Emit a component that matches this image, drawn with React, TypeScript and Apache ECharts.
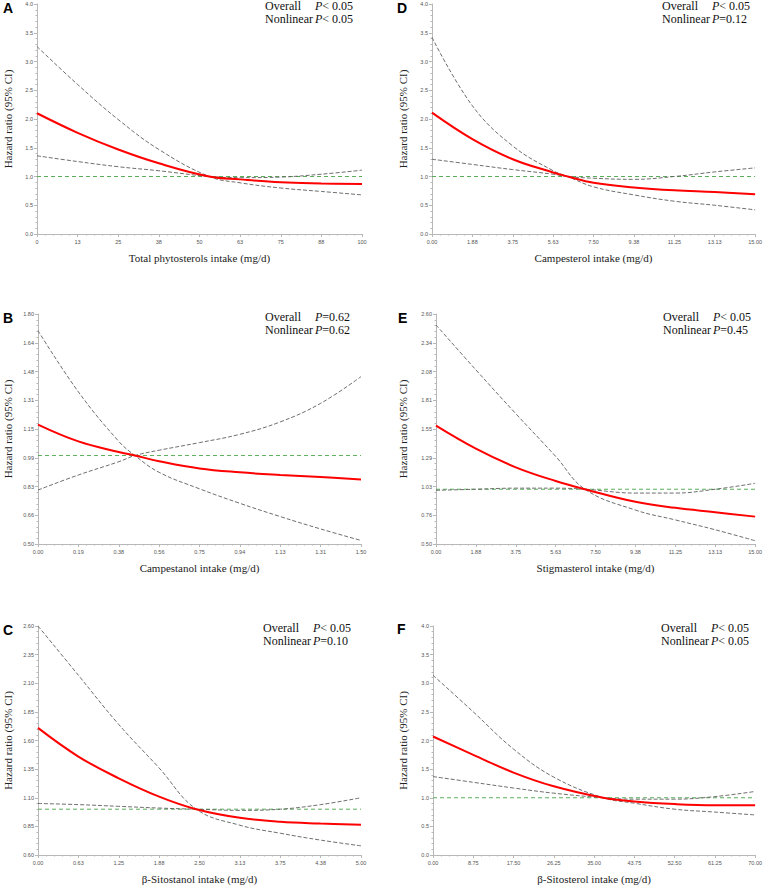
import React, { useEffect, useRef } from "react";
import * as echarts from "echarts";

// ---------- Panel A: Total phytosterols ----------
const xA = [0, 12.5, 25, 37.5, 53, 62.5, 75, 87.5, 100];
const hrA = [2.1, 1.76, 1.47, 1.23, 1.0, 0.95, 0.9, 0.88, 0.87];
const steepA = [3.26, 2.6, 1.99, 1.47, 1.0, 0.89, 0.8, 0.74, 0.68];
const flatA = [1.36, 1.26, 1.17, 1.1, 1.0, 0.98, 0.99, 1.04, 1.11];
const xTicksA = ["0", "13", "25", "38", "50", "63", "75", "88", "100"];
const yTicksA = ["0.0", "0.5", "1.0", "1.5", "2.0", "2.5", "3.0", "3.5", "4.0"];

// ---------- Panel B: Campestanol ----------
const xB = [0, 0.1875, 0.375, 0.45, 0.5625, 0.75, 0.9375, 1.125, 1.3125, 1.5];
const hrB = [1.175, 1.08, 1.02, 1.0, 0.968, 0.927, 0.905, 0.89, 0.878, 0.865];
const steepB = [1.706, 1.36, 1.08, 1.0, 0.905, 0.812, 0.73, 0.655, 0.585, 0.52];
const flatB = [0.805, 0.89, 0.965, 1.0, 1.03, 1.073, 1.12, 1.19, 1.295, 1.446];
const xTicksB = ["0.00", "0.19", "0.38", "0.56", "0.75", "0.94", "1.13", "1.31", "1.50"];
const yTicksB = ["0.50", "0.66", "0.83", "0.99", "1.15", "1.31", "1.48", "1.64", "1.80"];

// ---------- Panel C: beta-Sitostanol ----------
const xC = [0, 0.625, 1.25, 1.875, 2.45, 3.125, 3.75, 4.375, 5];
const hrC = [1.71, 1.46, 1.27, 1.11, 1.0, 0.925, 0.89, 0.875, 0.865];
const steepC = [2.6, 2.17, 1.74, 1.36, 1.0, 0.86, 0.79, 0.73, 0.68];
const flatC = [1.05, 1.04, 1.025, 1.01, 1.0, 0.99, 1.0, 1.04, 1.1];
const xTicksC = ["0.00", "0.63", "1.25", "1.88", "2.50", "3.13", "3.75", "4.38", "5.00"];
const yTicksC = ["0.60", "0.85", "1.10", "1.35", "1.60", "1.85", "2.10", "2.35", "2.60"];

// ---------- Panel D: Campesterol ----------
const xD = [0, 1.875, 3.75, 5.625, 6.3, 7.5, 9.375, 11.25, 13.125, 15];
const hrD = [2.11, 1.65, 1.3, 1.07, 1.0, 0.89, 0.81, 0.76, 0.73, 0.69];
const steepD = [3.42, 2.23, 1.53, 1.1, 1.0, 0.82, 0.68, 0.57, 0.5, 0.42];
const flatD = [1.3, 1.21, 1.12, 1.04, 1.0, 0.97, 0.95, 1.0, 1.08, 1.15];
const xTicksD = ["0.00", "1.88", "3.75", "5.63", "7.50", "9.38", "11.25", "13.13", "15.00"];
const yTicksD = ["0.0", "0.5", "1.0", "1.5", "2.0", "2.5", "3.0", "3.5", "4.0"];

// ---------- Panel E: Stigmasterol ----------
const xE = [0, 1.875, 3.75, 5.625, 7.0, 9.375, 11.25, 13.125, 15];
const hrE = [1.58, 1.37, 1.2, 1.075, 1.0, 0.885, 0.83, 0.79, 0.75];
const steepE = [2.5, 2.09, 1.69, 1.3, 1.0, 0.81, 0.72, 0.63, 0.53];
const flatE = [0.99, 1.0, 1.01, 1.01, 1.0, 0.965, 0.965, 1.0, 1.054];
const xTicksE = ["0.00", "1.88", "3.75", "5.63", "7.50", "9.38", "11.25", "13.13", "15.00"];
const yTicksE = ["0.50", "0.76", "1.03", "1.29", "1.55", "1.81", "2.08", "2.34", "2.60"];

// ---------- Panel F: beta-Sitosterol ----------
const xF = [0, 8.75, 17.5, 26.25, 37, 43.75, 52.5, 61.25, 70];
const hrF = [2.07, 1.75, 1.44, 1.2, 1.0, 0.935, 0.89, 0.87, 0.87];
const steepF = [3.14, 2.5, 1.85, 1.36, 1.0, 0.905, 0.8, 0.75, 0.7];
const flatF = [1.37, 1.27, 1.17, 1.08, 1.0, 0.975, 0.975, 1.02, 1.11];
const xTicksF = ["0.00", "8.75", "17.50", "26.25", "35.00", "43.75", "52.50", "61.25", "70.00"];
const yTicksF = ["0.0", "0.5", "1.0", "1.5", "2.0", "2.5", "3.0", "3.5", "4.0"];

const letters = ["A", "B", "C", "D", "E", "F"];
const xTitles = [
  "Total phytosterols intake (mg/d)",
  "Campestanol intake (mg/d)",
  "β-Sitostanol intake (mg/d)",
  "Campesterol intake (mg/d)",
  "Stigmasterol intake (mg/d)",
  "β-Sitosterol intake (mg/d)",
];
const overallP = ["< 0.05", "=0.62", "< 0.05", "< 0.05", "< 0.05", "< 0.05"];
const nonlinearP = ["< 0.05", "=0.62", "=0.10", "=0.12", "=0.45", "< 0.05"];
const yTitle = "Hazard ratio (95% CI)";
const refHR = 1.0;

type Panel = {
  x: number[];
  hr: number[];
  ci1: number[];
  ci2: number[];
  xMax: number;
  yMin: number;
  yMax: number;
  xTicks: string[];
  yTicks: string[];
  grid: { left: number; top: number; width: number; height: number };
  nameGapY: number;
  ann: { x: number; y: number };
  letterPos: { x: number; y: number };
};

const panels: Panel[] = [
  { x: xA, hr: hrA, ci1: steepA, ci2: flatA, xMax: 100, yMin: 0, yMax: 4, xTicks: xTicksA, yTicks: yTicksA,
    grid: { left: 37, top: 4, width: 325, height: 230 }, nameGapY: 24, ann: { x: 265, y: 6 }, letterPos: { x: 3, y: 1 } },
  { x: xB, hr: hrB, ci1: steepB, ci2: flatB, xMax: 1.5, yMin: 0.5, yMax: 1.8, xTicks: xTicksB, yTicks: yTicksB,
    grid: { left: 38, top: 314, width: 323, height: 230 }, nameGapY: 25, ann: { x: 265, y: 317 }, letterPos: { x: 3, y: 311 } },
  { x: xC, hr: hrC, ci1: steepC, ci2: flatC, xMax: 5, yMin: 0.6, yMax: 2.6, xTicks: xTicksC, yTicks: yTicksC,
    grid: { left: 38, top: 626, width: 323, height: 229 }, nameGapY: 25, ann: { x: 263, y: 628 }, letterPos: { x: 3, y: 623 } },
  { x: xD, hr: hrD, ci1: steepD, ci2: flatD, xMax: 15, yMin: 0, yMax: 4, xTicks: xTicksD, yTicks: yTicksD,
    grid: { left: 432, top: 4, width: 326, height: 230 }, nameGapY: 23.5, ann: { x: 662, y: 6 }, letterPos: { x: 397, y: 1 } },
  { x: xE, hr: hrE, ci1: steepE, ci2: flatE, xMax: 15, yMin: 0.5, yMax: 2.6, xTicks: xTicksE, yTicks: yTicksE,
    grid: { left: 436, top: 314, width: 323, height: 230 }, nameGapY: 27.5, ann: { x: 663, y: 317 }, letterPos: { x: 398, y: 311 } },
  { x: xF, hr: hrF, ci1: steepF, ci2: flatF, xMax: 70, yMin: 0, yMax: 4, xTicks: xTicksF, yTicks: yTicksF,
    grid: { left: 433, top: 626, width: 325, height: 229 }, nameGapY: 24.5, ann: { x: 661, y: 628 }, letterPos: { x: 397, y: 622 } },
];

const serif = '"Liberation Serif", "Times New Roman", serif';
const sans = '"Liberation Sans", Arial, sans-serif';
const axisGray = "#b8b8b8";

function buildOption() {
  const grid: any[] = [];
  const xAxis: any[] = [];
  const yAxis: any[] = [];
  const series: any[] = [];
  const graphic: any[] = [];

  panels.forEach((p, i) => {
    const yStep = (p.yMax - p.yMin) / 8;
    const yU = (v: number) => (v - p.yMin) / yStep;
    const xStep = p.xMax / 8;
    grid.push({ ...p.grid, containLabel: false });
    xAxis.push({
      type: "value",
      gridIndex: i,
      min: 0,
      max: p.xMax,
      interval: xStep,
      name: xTitles[i],
      nameLocation: "middle",
      nameGap: 18,
      nameTextStyle: { fontFamily: serif, fontSize: 11, color: "#222" },
      axisLine: { show: true, lineStyle: { color: axisGray, width: 1 } },
      axisTick: { show: true, length: 3, lineStyle: { color: axisGray } },
      minorTick: { show: true, splitNumber: 5, length: 1.5, lineStyle: { color: axisGray } },
      splitLine: { show: false },
      axisLabel: {
        fontSize: 5.5,
        fontFamily: sans,
        color: "#555",
        margin: 5,
        formatter: (v: number) => p.xTicks[Math.round(v / xStep)] ?? "",
      },
    });
    yAxis.push({
      type: "value",
      gridIndex: i,
      min: 0,
      max: 8,
      interval: 1,
      name: yTitle,
      nameLocation: "middle",
      nameGap: p.nameGapY,
      nameTextStyle: { fontFamily: serif, fontSize: 11, color: "#222" },
      axisLine: { show: true, lineStyle: { color: axisGray, width: 1 } },
      axisTick: { show: true, length: 3, lineStyle: { color: axisGray } },
      minorTick: { show: true, splitNumber: 5, length: 1.5, lineStyle: { color: axisGray } },
      splitLine: { show: false },
      axisLabel: {
        fontSize: 5.5,
        fontFamily: sans,
        color: "#555",
        margin: 4,
        formatter: (v: number) => p.yTicks[Math.round(v)] ?? "",
      },
    });

    const common = { type: "line", xAxisIndex: i, yAxisIndex: i, showSymbol: false, symbol: "none", silent: true };
    series.push({
      ...common,
      name: "ref" + i,
      data: [[0, yU(refHR)], [p.xMax, yU(refHR)]],
      lineStyle: { color: "#5aae5a", width: 1, type: [4, 3] },
      z: 2,
    });
    series.push({
      ...common,
      name: "ciSteep" + i,
      smooth: 0.4,
      data: p.x.map((x, k) => [x, yU(p.ci1[k])]),
      lineStyle: { color: "#5e5e5e", width: 0.9, type: [4, 2] },
      z: 3,
    });
    series.push({
      ...common,
      name: "ciFlat" + i,
      smooth: 0.4,
      data: p.x.map((x, k) => [x, yU(p.ci2[k])]),
      lineStyle: { color: "#5e5e5e", width: 0.9, type: [4, 2] },
      z: 3,
    });
    series.push({
      ...common,
      name: "hr" + i,
      smooth: 0.4,
      data: p.x.map((x, k) => [x, yU(p.hr[k])]),
      lineStyle: { color: "#ff0000", width: 2 },
      z: 4,
    });

    graphic.push({
      type: "text",
      x: p.letterPos.x,
      y: p.letterPos.y,
      style: { text: letters[i], font: `bold 14px ${sans}`, fill: "#000", verticalAlign: "top" },
    });
    const rich = { it: { fontStyle: "italic", fontFamily: serif, fontSize: 12, fill: "#111" } };
    graphic.push({
      type: "text",
      x: p.ann.x,
      y: p.ann.y,
      style: { text: "Overall", font: `12px ${serif}`, fill: "#111", verticalAlign: "middle" },
    });
    graphic.push({
      type: "text",
      x: p.ann.x + 50,
      y: p.ann.y,
      style: { text: `{it|P}${overallP[i]}`, font: `12px ${serif}`, fill: "#111", verticalAlign: "middle", rich },
    });
    graphic.push({
      type: "text",
      x: p.ann.x,
      y: p.ann.y + 12.5,
      style: { text: "Nonlinear", font: `12px ${serif}`, fill: "#111", verticalAlign: "middle" },
    });
    graphic.push({
      type: "text",
      x: p.ann.x + 50,
      y: p.ann.y + 12.5,
      style: { text: `{it|P}${nonlinearP[i]}`, font: `12px ${serif}`, fill: "#111", verticalAlign: "middle", rich },
    });
  });

  return {
    animation: false,
    backgroundColor: "#ffffff",
    grid,
    xAxis,
    yAxis,
    series,
    graphic,
  };
}

export default function App() {
  const ref = useRef<HTMLDivElement>(null);
  useEffect(() => {
    if (!ref.current) return;
    const chart = echarts.init(ref.current, undefined, { renderer: "svg" });
    chart.setOption(buildOption() as any);
    return () => chart.dispose();
  }, []);
  return (
    <div
      ref={ref}
      style={{ position: "absolute", left: 0, top: 0, width: 765, height: 886, background: "#fff" }}
    />
  );
}
